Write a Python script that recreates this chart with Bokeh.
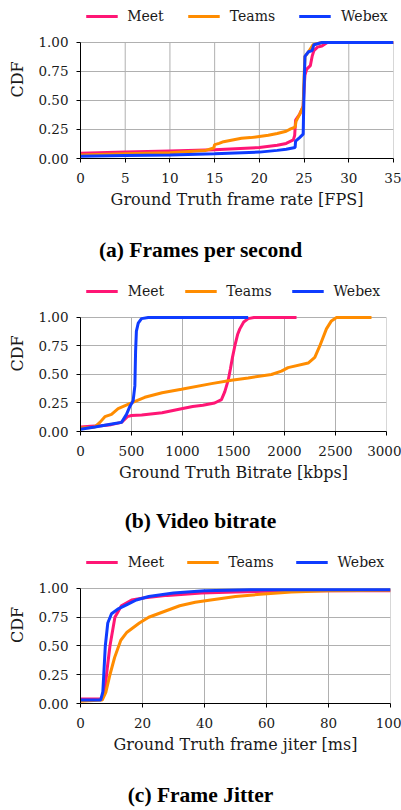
from bokeh.plotting import figure
from bokeh.layouts import column
from bokeh.models import (Range1d, FixedTicker, Legend, LegendItem, Div)
from bokeh.embed import file_html
from bokeh.resources import INLINE

# ---------------- data ----------------
series_names = ["Meet", "Teams", "Webex"]
series_colors = ["#ff1675", "#ff8c00", "#0f3cff"]

y_ticks = [0, 0.25, 0.5, 0.75, 1.0]
y_tick_labels = ["0.00", "0.25", "0.50", "0.75", "1.00"]

# (a) frames per second
fps_ticks = [0, 5, 10, 15, 20, 25, 30, 35]
fps_meet_x = [0, 5, 10, 15, 20, 22, 23, 23.8, 23.95, 24.05, 24.5, 24.9, 25.0, 25.1, 25.3, 25.7, 25.9, 26.1, 26.5, 27.0, 27.6, 35]
fps_meet_y = [0.045, 0.055, 0.065, 0.075, 0.095, 0.115, 0.13, 0.16, 0.2, 0.33, 0.38, 0.45, 0.6, 0.72, 0.77, 0.8, 0.88, 0.93, 0.96, 0.97, 1.0, 1.0]
fps_teams_x = [0, 5, 10, 14, 14.9, 15.0, 15.5, 16, 17, 18, 19, 20, 21, 22, 23, 23.5, 24, 24.1, 24.5, 24.9, 25.0, 25.1, 25.5, 26, 27, 35]
fps_teams_y = [0.03, 0.04, 0.05, 0.07, 0.09, 0.12, 0.13, 0.145, 0.16, 0.175, 0.18, 0.19, 0.2, 0.215, 0.235, 0.255, 0.27, 0.32, 0.38, 0.45, 0.7, 0.88, 0.92, 0.98, 1.0, 1.0]
fps_webex_x = [0, 5, 10, 15, 20, 22, 23, 24, 24.05, 24.5, 24.9, 25.0, 25.1, 25.5, 25.9, 26.1, 27, 35]
fps_webex_y = [0.02, 0.025, 0.03, 0.04, 0.055, 0.07, 0.08, 0.095, 0.15, 0.18, 0.21, 0.6, 0.88, 0.92, 0.93, 0.98, 1.0, 1.0]

# (b) video bitrate
br_ticks = [0, 500, 1000, 1500, 2000, 2500, 3000]
br_meet_x = [0, 100, 200, 300, 402, 460, 500, 600, 800, 990, 1100, 1200, 1315, 1382, 1415, 1448, 1470, 1490, 1513, 1540, 1562, 1600, 1644, 1700, 2118]
br_meet_y = [0.04, 0.045, 0.05, 0.06, 0.08, 0.13, 0.14, 0.145, 0.165, 0.2, 0.22, 0.23, 0.25, 0.28, 0.35, 0.45, 0.55, 0.65, 0.75, 0.85, 0.9, 0.96, 0.99, 1.0, 1.0]
br_teams_x = [0, 100, 141, 190, 239, 304, 369, 500, 630, 800, 990, 1284, 1480, 1644, 1872, 1970, 2035, 2232, 2297, 2346, 2411, 2460, 2510, 2853]
br_teams_y = [0.03, 0.035, 0.04, 0.08, 0.13, 0.15, 0.2, 0.25, 0.3, 0.34, 0.37, 0.42, 0.45, 0.47, 0.5, 0.53, 0.56, 0.6, 0.65, 0.75, 0.9, 0.97, 1.0, 1.0]
br_webex_x = [0, 141, 336, 402, 451, 484, 516, 533, 540, 548, 566, 598, 664, 1644]
br_webex_y = [0.02, 0.04, 0.07, 0.08, 0.15, 0.22, 0.27, 0.4, 0.7, 0.88, 0.95, 0.99, 1.0, 1.0]

# (c) frame jitter
jit_ticks = [0, 20, 40, 60, 80, 100]
jit_meet_x = [0, 6.8, 7.8, 8.6, 9.5, 11.1, 13.2, 16.5, 20.8, 28, 39, 50, 71, 100]
jit_meet_y = [0.04, 0.04, 0.1, 0.3, 0.5, 0.75, 0.85, 0.9, 0.92, 0.94, 0.96, 0.97, 0.98, 0.98]
jit_teams_x = [0, 7, 8.2, 9.5, 11, 13, 15, 19, 22, 27, 32, 37, 42, 50, 58, 68, 80, 100]
jit_teams_y = [0.02, 0.03, 0.1, 0.25, 0.4, 0.55, 0.62, 0.7, 0.75, 0.8, 0.85, 0.88, 0.9, 0.93, 0.95, 0.97, 0.98, 0.985]
jit_webex_x = [0, 6.5, 7.2, 8.0, 8.8, 10, 12, 15, 18, 22, 30, 40, 55, 100]
jit_webex_y = [0.03, 0.03, 0.1, 0.5, 0.7, 0.78, 0.82, 0.86, 0.9, 0.93, 0.96, 0.98, 0.99, 0.99]

SERIF = "DejaVu Serif"
TXT = "#1a1a1a"


def make_panel(xmax, xticks, xlabel, ylabel, xs, ys,
               fw, fh, ytop, left, right, leg_spacing):
    p = figure(frame_width=fw, frame_height=fh, output_backend="svg",
               toolbar_location=None,
               x_range=Range1d(0, xmax), y_range=Range1d(0, ytop),
               min_border_top=0, min_border_bottom=0,
               min_border_left=left, min_border_right=right)
    p.outline_line_color = None
    p.background_fill_color = "white"
    p.border_fill_color = "white"

    # vertical grid lines limited to the CDF range [0, 1]
    p.segment(x0=xticks, y0=[y_ticks[0]] * len(xticks),
              x1=xticks, y1=[y_ticks[-1]] * len(xticks),
              line_color="#b0b0b0", line_width=1)
    p.xgrid.visible = False
    p.ygrid.ticker = FixedTicker(ticks=y_ticks)
    p.ygrid.grid_line_color = "#b0b0b0"
    p.ygrid.grid_line_width = 1

    renderers = []
    for x, y, c in zip(xs, ys, series_colors):
        r = p.line(x, y, line_color=c, line_width=3)
        renderers.append(r)

    p.xaxis.ticker = FixedTicker(ticks=xticks)
    p.yaxis.ticker = FixedTicker(ticks=y_ticks)
    p.yaxis.bounds = (y_ticks[0], y_ticks[-1])
    p.yaxis.major_label_overrides = {t: l for t, l in zip(y_ticks, y_tick_labels)}
    for ax in (p.xaxis, p.yaxis):
        ax.axis_line_color = "black"
        ax.axis_line_width = 1
        ax.major_tick_out = 4
        ax.major_tick_in = 0
        ax.minor_tick_line_color = None
        ax.major_tick_line_color = "black"
        ax.major_label_text_font = SERIF
        ax.major_label_text_font_size = "13.5px"
        ax.major_label_text_color = TXT
        ax.axis_label_text_font = SERIF
        ax.axis_label_text_font_size = "16px"
        ax.axis_label_text_font_style = "normal"
        ax.axis_label_text_color = TXT
    p.xaxis.axis_label = xlabel
    p.yaxis.axis_label = ylabel
    p.xaxis.major_label_standoff = 10
    p.xaxis.axis_label_standoff = 4
    p.yaxis.major_label_standoff = 8
    p.yaxis.axis_label_standoff = 8

    legend = Legend(items=[LegendItem(label=n, renderers=[r])
                           for n, r in zip(series_names, renderers)],
                    orientation="horizontal", location="top_center",
                    glyph_width=32, glyph_height=14, label_height=14,
                    label_standoff=10, spacing=leg_spacing, padding=0,
                    margin=8, border_line_color=None,
                    background_fill_alpha=0,
                    label_text_font=SERIF, label_text_font_size="14px",
                    label_text_color=TXT)
    p.add_layout(legend)
    return p


def make_caption(text, height, pad_top):
    html = ('<div style="font-family:\'Liberation Serif\',serif;'
            'font-weight:bold;font-size:21.5px;line-height:20px;'
            'color:#000;text-align:center;white-space:nowrap;'
            'width:389px;'
            f'padding-top:{pad_top}px;padding-left:12px;">{text}</div>')
    return Div(text=html, width=401, height=height, margin=0)


pa = make_panel(35, fps_ticks, "Ground Truth frame rate [FPS]", "CDF",
                [fps_meet_x, fps_teams_x, fps_webex_x],
                [fps_meet_y, fps_teams_y, fps_webex_y],
                313, 158, 1.362, 80, 8, 24)
ca = make_caption("(a) Frames per second", 64, 29)
pb = make_panel(3000, br_ticks, "Ground Truth Bitrate [kbps]", "CDF",
                [br_meet_x, br_teams_x, br_webex_x],
                [br_meet_y, br_teams_y, br_webex_y],
                306, 156, 1.368, 79, 16, 20)
cb = make_caption("(b) Video bitrate", 62, 27)
pc = make_panel(100, jit_ticks, "Ground Truth frame jiter [ms]", "CDF",
                [jit_meet_x, jit_teams_x, jit_webex_x],
                [jit_meet_y, jit_teams_y, jit_webex_y],
                310, 157, 1.365, 79, 12, 22)
cc = make_caption("(c) Frame Jitter", 51, 29)

layout = column(pa, ca, pb, cb, pc, cc, spacing=0)
open("out.html", "w").write(file_html(layout, INLINE))
